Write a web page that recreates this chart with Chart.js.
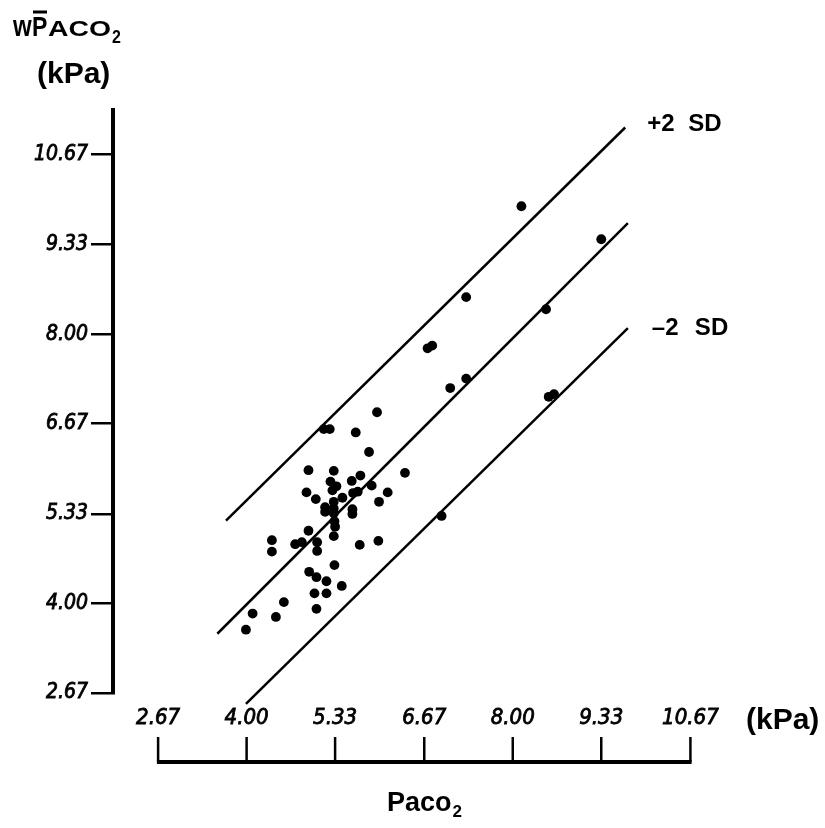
<!DOCTYPE html>
<html><head><meta charset="utf-8">
<script src="https://cdn.jsdelivr.net/npm/chart.js@4.4.1/dist/chart.umd.min.js"></script>
<style>html,body{margin:0;padding:0;background:#fff}canvas{display:block}</style>
</head><body>
<canvas id="c" width="825" height="828"></canvas>
<script>
// Observed points: PaCO2 (kPa) vs w-bar PACO2 (kPa)
const paco2 = [5.96,5.16,5.25,5.64,5.84,4.93,5.31,5.71,6.38,5.58,5.26,5.35,5.29,5.88,6.12,4.90,5.60,5.67,5.04,5.44,5.31,5.99,5.18,5.18,5.31,5.31,5.59,5.59,5.32,5.33,4.93,5.31,4.73,4.83,5.06,5.06,5.70,5.98,4.38,4.38,6.93,5.32,4.94,5.05,5.20,5.43,5.02,5.20,5.05,4.56,4.09,4.44,3.99,8.13,9.33,7.30,8.50,6.72,6.79,7.30,7.06,8.54,8.62];
const wpaco2 = [6.84,6.59,6.59,6.54,6.25,5.98,5.97,5.90,5.94,5.82,5.81,5.74,5.68,5.75,5.65,5.65,5.64,5.66,5.55,5.57,5.51,5.51,5.43,5.36,5.41,5.34,5.40,5.33,5.22,5.14,5.08,5.00,4.88,4.91,4.91,4.78,4.87,4.93,4.94,4.77,5.30,4.57,4.47,4.39,4.33,4.26,4.15,4.15,3.92,4.02,3.85,3.80,3.61,9.90,9.41,8.55,8.37,7.79,7.83,7.34,7.20,7.07,7.11];
// Regression line and +/-2 SD lines (end points)
const meanLineX = [3.56, 9.73];
const meanLineY = [3.55, 9.65];
const plusSDX = [3.69, 9.69];
const plusSDY = [5.23, 11.07];
const minusSDX = [3.99, 9.73];
const minusSDY = [2.51, 8.09];
// Axis ticks
const xTicks = [2.67, 4.00, 5.33, 6.67, 8.00, 9.33, 10.67];
const xTickLabels = ['2.67','4.00','5.33','6.67','8.00','9.33','10.67'];
const yTicks = [2.67, 4.00, 5.33, 6.67, 8.00, 9.33, 10.67];
const yTickLabels = ['2.67','4.00','5.33','6.67','8.00','9.33','10.67'];

const zip = (a,b) => a.map((v,i)=>({x:v,y:b[i]}));
const TICKFONT = "'DejaVu Sans Condensed', 'DejaVu Sans', sans-serif";
const BOLDFONT = "'Liberation Sans', Arial, sans-serif";

const lineDs = (xs, ys) => ({
  type:'line', data: zip(xs, ys), showLine:true, borderColor:'#000', borderWidth:2.5,
  pointRadius:0, fill:false, clip:false, tension:0
});

const decor = {
  id:'decor',
  afterDraw(chart){
    const ctx = chart.ctx, xs = chart.scales.x, ys = chart.scales.y;
    const axisY = 762;
    ctx.save();
    ctx.strokeStyle = '#000'; ctx.fillStyle = '#000';
    // x axis (drawn below the plot)
    const x0 = xs.getPixelForValue(xTicks[0]);
    const x1 = xs.getPixelForValue(xTicks[xTicks.length-1]);
    ctx.lineWidth = 4;
    ctx.beginPath(); ctx.moveTo(x0-1.2, axisY); ctx.lineTo(x1+1.2, axisY); ctx.stroke();
    ctx.font = "italic 22px " + TICKFONT;
    ctx.textAlign = 'center'; ctx.textBaseline = 'middle';
    xTicks.forEach((v,i)=>{
      const px = xs.getPixelForValue(v);
      ctx.lineWidth = 2.5;
      ctx.beginPath(); ctx.moveTo(px, axisY); ctx.lineTo(px, axisY-25); ctx.stroke();
      ctx.lineWidth = 0.8;
      ctx.fillText(xTickLabels[i], px, 718);
      ctx.strokeText(xTickLabels[i], px, 718);
    });
    // x unit
    ctx.font = "bold 30px " + BOLDFONT;
    ctx.textAlign = 'left'; ctx.textBaseline = 'alphabetic';
    ctx.fillText('(kPa)', 746, 729);
    // x title
    ctx.font = "bold 27px " + BOLDFONT;
    ctx.fillText('Paco', 387, 811);
    const pw = ctx.measureText('Paco').width;
    ctx.font = "bold 17px " + BOLDFONT;
    ctx.fillText('2', 387 + pw + 1, 817);
    // y title: w P-bar ACO2 (slightly tall lettering)
    ctx.save();
    ctx.translate(0, 36); ctx.scale(1, 1.2);
    ctx.font = "bold 24px " + BOLDFONT;
    ctx.fillText('w', 13, 0);
    ctx.font = "bold 23px " + BOLDFONT;
    ctx.fillText('P', 32, 0);
    ctx.font = "bold 18px " + BOLDFONT;
    const aw = ctx.measureText('ACO').width;
    ctx.save(); ctx.translate(48, 0); ctx.scale(63/aw, 1); ctx.fillText('ACO', 0, 0); ctx.restore();
    ctx.font = "bold 16px " + BOLDFONT;
    ctx.fillText('2', 112, 6);
    ctx.restore();
    ctx.lineWidth = 3;
    ctx.beginPath(); ctx.moveTo(33, 12); ctx.lineTo(47, 12); ctx.stroke();
    ctx.font = "bold 30px " + BOLDFONT;
    ctx.fillText('(kPa)', 37, 83);
    // SD labels next to line ends
    ctx.font = "bold 24px " + BOLDFONT;
    ctx.textBaseline = 'middle';
    const pEnd = {x: xs.getPixelForValue(plusSDX[1]), y: ys.getPixelForValue(plusSDY[1])};
    ctx.fillText('+2', pEnd.x + 22, pEnd.y - 3);
    ctx.fillText('SD', pEnd.x + 63, pEnd.y - 3);
    const mEnd = {x: xs.getPixelForValue(minusSDX[1]), y: ys.getPixelForValue(minusSDY[1])};
    ctx.fillText('\u20132', mEnd.x + 24, mEnd.y);
    ctx.fillText('SD', mEnd.x + 67, mEnd.y);
    ctx.restore();
  }
};

new Chart(document.getElementById('c'), {
  type:'scatter',
  data:{ datasets:[
    { data: zip(paco2, wpaco2), backgroundColor:'#000', borderColor:'#000', pointRadius:4.9, pointHoverRadius:4.9, borderWidth:0 },
    lineDs(plusSDX, plusSDY),
    lineDs(meanLineX, meanLineY),
    lineDs(minusSDX, minusSDY)
  ]},
  options:{
    responsive:false, animation:false, devicePixelRatio:1,
    layout:{ padding:{ left:0, right:25, top:110, bottom:135 } },
    plugins:{ legend:{display:false}, tooltip:{enabled:false}, title:{display:false} },
    events:[],
    scales:{
      x:{ type:'linear', display:false, min:1.992, max:12.317 },
      y:{ type:'linear', position:'left', min:2.67, max:11.33,
        afterBuildTicks(s){ s.ticks = yTicks.map(v=>({value:v})); },
        afterFit(s){ s.width = 113; },
        border:{ display:true, color:'#000', width:4 },
        grid:{ drawOnChartArea:false, drawTicks:true, tickLength:22, color:'#000', lineWidth:2.5 },
        ticks:{ color:'#000', padding:3, textStrokeColor:'#000', textStrokeWidth:0.8,
          font:{ family:TICKFONT, size:21, style:'italic' },
          callback(v){ const i = yTicks.indexOf(v); return i>=0 ? yTickLabels[i] : ''; } }
      }
    }
  },
  plugins:[decor]
});
</script>
</body></html>
